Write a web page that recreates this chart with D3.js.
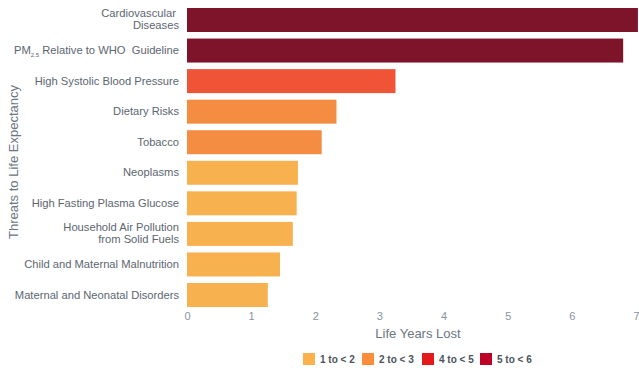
<!DOCTYPE html>
<html lang="en">
<head>
    <meta charset="UTF-8">
    <title>Threats to Life Expectancy</title>
    <script src="https://d3js.org/d3.v7.min.js" charset="utf-8"></script>
    <style>
        body { margin: 0; background: #fff; }
        svg { font-family: "Liberation Sans", Arial, sans-serif; }
    </style>
</head>
<body>
    <div id="chart"></div>
    <script>

    // data
    var categories = [
        'Cardiovascular Diseases',
        'PM2.5 Relative to WHO Guideline',
        'High Systolic Blood Pressure',
        'Dietary Risks',
        'Tobacco',
        'Neoplasms',
        'High Fasting Plasma Glucose',
        'Household Air Pollution from Solid Fuels',
        'Child and Maternal Malnutrition',
        'Maternal and Neonatal Disorders'
    ];
    var values = [7.03, 6.8, 3.25, 2.33, 2.1, 1.73, 1.71, 1.65, 1.45, 1.26];
    var groups = ['5-6', '5-6', '3-4', '2-3', '2-3', '1-2', '1-2', '1-2', '1-2', '1-2'];
    var xTicks = [0, 1, 2, 3, 4, 5, 6, 7];
    var legendLabels = ['1 to < 2', '2 to < 3', '4 to < 5', '5 to < 6'];
    var legendColors = ['#fdb04b', '#fc8d3a', '#e31a1c', '#bd0026'];

    var barColor = {
        '1-2': '#f8b14f',
        '2-3': '#f48d42',
        '3-4': '#ef5436',
        '5-6': '#7e1429'
    };

    var width = 639, height = 368;
    var plotLeft = 187, plotRight = 636;
    var plotTop = 8, plotBottom = 307;

    var svg = d3.select('#chart')
        .append('svg')
        .attr('width', width)
        .attr('height', height);

    var data = categories.map(function(c, i) {
        return {name: c, value: values[i], group: groups[i]};
    });

    var x = d3.scaleLinear().domain([0, 7]).range([plotLeft, plotRight]);
    var y = d3.scaleBand()
        .domain(categories)
        .range([plotTop, plotBottom])
        .paddingInner(0.215)
        .paddingOuter(0);

    // bars (clipped at the right edge like the original)
    svg.selectAll('.bar')
        .data(data)
        .enter()
        .append('rect')
        .attr('class', 'bar')
        .attr('x', x(0))
        .attr('y', d => y(d.name))
        .attr('width', d => Math.min(x(d.value), width) - x(0))
        .attr('height', y.bandwidth())
        .attr('fill', d => barColor[d.group]);

    // category labels
    var labelColor = '#5b6670';
    var lx = plotLeft - 8;
    var labels = svg.selectAll('.label')
        .data(data)
        .enter()
        .append('text')
        .attr('class', 'label')
        .attr('x', lx)
        .attr('text-anchor', 'end')
        .attr('fill', labelColor)
        .style('font-size', '11.2px');

    labels.each(function(d) {
        var t = d3.select(this);
        var cy = y(d.name) + y.bandwidth() / 2;
        if (d.name === 'Cardiovascular Diseases') {
            t.append('tspan').attr('x', lx).attr('y', cy - 3).text('Cardiovascular\u00a0');
            t.append('tspan').attr('x', lx).attr('y', cy + 9).text('Diseases');
        } else if (d.name === 'Household Air Pollution from Solid Fuels') {
            t.append('tspan').attr('x', lx).attr('y', cy - 3).text('Household Air Pollution');
            t.append('tspan').attr('x', lx).attr('y', cy + 9).text('from Solid Fuels');
        } else if (d.name === 'PM2.5 Relative to WHO Guideline') {
            t.attr('y', cy + 3.5);
            t.append('tspan').text('PM');
            t.append('tspan').attr('dy', 3).style('font-size', '6px').text('2.5');
            t.append('tspan').attr('dy', -3).text(' Relative to WHO\u00a0 Guideline');
        } else {
            t.attr('y', cy + 3.5).text(d.name);
        }
    });

    // x axis
    var xAxis = d3.axisBottom(x)
        .tickValues(xTicks)
        .tickFormat(d3.format('d'))
        .tickSize(0)
        .tickPadding(0);
    var gx = svg.append('g')
        .attr('transform', 'translate(0,310)')
        .call(xAxis);
    gx.select('.domain').remove();
    gx.selectAll('text')
        .attr('y', 2)
        .attr('fill', '#8a939b')
        .style('font-size', '11px')
        .style('font-family', '"Liberation Sans", Arial, sans-serif');

    // axis titles
    svg.append('text')
        .attr('x', 418)
        .attr('y', 338)
        .attr('text-anchor', 'middle')
        .attr('fill', '#6b7680')
        .style('font-size', '13px')
        .text('Life Years Lost');

    svg.append('text')
        .attr('transform', 'translate(18,162) rotate(-90)')
        .attr('text-anchor', 'middle')
        .attr('fill', '#6b7680')
        .style('font-size', '13px')
        .text('Threats to Life Expectancy');

    // legend
    var legendX = [303, 362, 422, 480];
    var legend = svg.selectAll('.legend')
        .data(legendLabels)
        .enter()
        .append('g')
        .attr('class', 'legend')
        .attr('transform', (d, i) => 'translate(' + legendX[i] + ',353)');

    legend.append('rect')
        .attr('width', 12)
        .attr('height', 12)
        .attr('fill', (d, i) => legendColors[i]);

    legend.append('text')
        .attr('x', 17)
        .attr('y', 10)
        .attr('fill', '#4a535c')
        .style('font-size', '10px')
        .style('font-weight', 'bold')
        .text(d => d);

    </script>
</body>
</html>
